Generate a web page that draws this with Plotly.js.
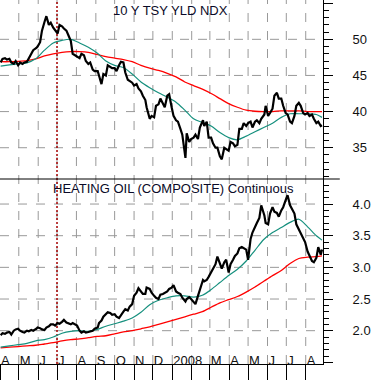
<!DOCTYPE html>
<html><head><meta charset="utf-8">
<script src="https://cdn.plot.ly/plotly-3.0.1.min.js"></script>
<style>html,body{margin:0;padding:0;background:#fff}#chart{width:371px;height:380px}</style>
</head><body><div id="chart"></div>
<script>
// ---- data ----
const priceDates = [
'2007-04-02','2007-04-05','2007-04-09','2007-04-12','2007-04-16','2007-04-19','2007-04-23','2007-04-26','2007-04-30','2007-05-03',
'2007-05-07','2007-05-10','2007-05-14','2007-05-17','2007-05-21','2007-05-24','2007-05-29','2007-05-31','2007-06-04','2007-06-07',
'2007-06-11','2007-06-14','2007-06-18','2007-06-21','2007-06-25','2007-06-28','2007-07-02','2007-07-05','2007-07-09','2007-07-12',
'2007-07-16','2007-07-19','2007-07-23','2007-07-26','2007-07-30','2007-08-02','2007-08-06','2007-08-09','2007-08-13','2007-08-16',
'2007-08-20','2007-08-23','2007-08-27','2007-08-30','2007-09-04','2007-09-06','2007-09-10','2007-09-13','2007-09-17','2007-09-20',
'2007-09-24','2007-09-27','2007-10-01','2007-10-04','2007-10-08','2007-10-11','2007-10-15','2007-10-18','2007-10-22','2007-10-25',
'2007-10-29','2007-11-01','2007-11-05','2007-11-08','2007-11-12','2007-11-15','2007-11-19','2007-11-21','2007-11-26','2007-11-29',
'2007-12-03','2007-12-06','2007-12-10','2007-12-13','2007-12-17','2007-12-20','2007-12-24','2007-12-27','2007-12-31','2008-01-03',
'2008-01-07','2008-01-10','2008-01-14','2008-01-17','2008-01-22','2008-01-24','2008-01-28','2008-01-31','2008-02-04','2008-02-07',
'2008-02-11','2008-02-14','2008-02-19','2008-02-21','2008-02-25','2008-02-28','2008-03-03','2008-03-06','2008-03-10','2008-03-13',
'2008-03-17','2008-03-20','2008-03-24','2008-03-27','2008-03-31','2008-04-03','2008-04-07','2008-04-10','2008-04-14','2008-04-17',
'2008-04-21','2008-04-24','2008-04-28','2008-05-01','2008-05-05','2008-05-08','2008-05-12','2008-05-15','2008-05-19','2008-05-22',
'2008-05-27','2008-05-29','2008-06-02','2008-06-05','2008-06-09','2008-06-12','2008-06-16','2008-06-19','2008-06-23','2008-06-26',
'2008-06-30','2008-07-03','2008-07-07','2008-07-10','2008-07-14','2008-07-17','2008-07-21','2008-07-24','2008-07-28','2008-07-31',
'2008-08-04','2008-08-07','2008-08-11','2008-08-14','2008-08-18','2008-08-21','2008-08-25','2008-08-27'];

const tnxYield = [
46.8,47.3,47.4,47.2,47.3,46.8,46.6,47.0,46.4,46.8,
46.6,46.8,46.9,47.4,48.0,48.5,48.8,49.0,49.6,51.2,
52.4,53.2,52.0,52.3,51.6,51.2,50.8,52.0,51.8,51.5,
51.2,50.6,49.8,48.0,47.8,47.6,47.4,48.0,47.8,47.0,
46.6,46.8,45.8,45.6,45.6,45.0,43.8,45.2,45.0,46.4,
46.2,46.0,46.0,45.6,46.4,46.9,46.8,45.4,44.4,44.2,
44.0,43.6,43.8,43.2,42.8,42.2,41.6,40.6,39.0,39.4,
39.2,40.8,41.0,41.8,41.2,40.6,42.2,42.4,40.6,39.4,
38.8,38.6,37.6,36.8,33.6,37.0,35.8,36.2,36.4,36.8,
36.2,37.8,38.8,38.0,38.6,36.4,36.4,35.6,35.0,35.0,
33.8,33.4,35.0,34.8,34.6,35.8,35.6,35.2,35.4,37.6,
37.6,38.4,38.0,38.4,38.6,37.8,38.6,38.8,38.4,39.0,
39.6,40.8,39.4,39.8,40.4,42.2,42.6,41.8,41.8,40.8,
39.8,39.6,38.6,38.4,39.4,40.8,41.2,40.8,39.8,39.6,
39.8,39.4,39.6,39.0,38.4,38.6,38.0,38.1];

const heatingOil = [
1.93,1.96,1.95,1.97,1.98,1.94,2.00,2.02,2.03,2.00,
1.98,1.97,2.00,1.99,2.01,2.00,2.03,2.05,2.04,2.02,
2.01,2.05,2.07,2.10,2.10,2.08,2.12,2.11,2.14,2.17,
2.13,2.12,2.10,2.12,2.09,2.08,2.00,1.97,1.99,1.97,
1.98,1.99,2.00,2.03,2.05,2.12,2.16,2.22,2.27,2.29,
2.28,2.25,2.26,2.22,2.20,2.25,2.30,2.34,2.32,2.38,
2.42,2.55,2.60,2.67,2.62,2.58,2.58,2.68,2.66,2.60,
2.55,2.52,2.50,2.57,2.58,2.60,2.62,2.66,2.68,2.72,
2.62,2.60,2.58,2.52,2.46,2.50,2.53,2.50,2.45,2.42,
2.55,2.64,2.80,2.78,2.80,2.85,2.92,2.98,3.05,3.17,
3.05,2.98,3.08,3.12,2.92,3.05,3.12,3.18,3.22,3.30,
3.32,3.30,3.28,3.12,3.45,3.55,3.65,3.70,3.78,3.98,
3.82,3.70,3.68,3.85,3.95,3.88,3.86,3.80,3.90,3.95,
4.06,4.14,3.98,3.92,3.85,3.68,3.60,3.52,3.45,3.40,
3.25,3.18,3.10,3.08,3.15,3.32,3.20,3.28];

const maDates = ['2007-04-02','2007-04-16','2007-04-30','2007-05-14','2007-05-28','2007-06-11','2007-06-25','2007-07-09','2007-07-23','2007-08-06',
'2007-08-20','2007-09-03','2007-09-17','2007-10-01','2007-10-15','2007-10-29','2007-11-12','2007-11-26','2007-12-10','2007-12-24',
'2008-01-07','2008-01-21','2008-02-04','2008-02-18','2008-03-03','2008-03-17','2008-03-31','2008-04-14','2008-04-28','2008-05-12',
'2008-05-26','2008-06-09','2008-06-23','2008-07-07','2008-07-21','2008-08-04','2008-08-18','2008-08-27'];

const tnxMA50 = [46.3,46.45,46.6,46.75,47.3,48.5,49.5,49.85,50.0,49.5,
48.9,48.1,47.0,46.4,46.1,45.2,44.1,43.3,42.6,42.0,
41.3,40.2,39.0,38.5,38.0,37.1,36.4,36.1,36.6,37.2,
37.8,38.4,39.2,39.7,39.7,39.7,39.6,39.2];
const tnxMA200 = [46.9,46.9,46.95,47.05,47.3,47.7,48.0,48.2,48.3,48.3,
48.2,47.9,47.6,47.4,47.2,46.9,46.4,46.0,45.7,45.3,
44.8,44.1,43.6,43.1,42.5,41.8,41.1,40.6,40.2,40.05,
40.0,40.0,40.1,40.1,40.1,40.0,40.0,40.0];
const hoMA50 = [1.74,1.76,1.78,1.80,1.84,1.86,1.90,1.96,1.99,2.00,
1.99,2.02,2.07,2.11,2.15,2.20,2.29,2.41,2.48,2.52,
2.55,2.55,2.53,2.56,2.65,2.76,2.87,2.97,3.10,3.27,
3.44,3.55,3.63,3.71,3.76,3.64,3.50,3.43];
const hoMA200 = [1.73,1.74,1.75,1.76,1.77,1.79,1.81,1.84,1.86,1.87,
1.89,1.91,1.92,1.95,1.98,2.00,2.03,2.06,2.10,2.14,
2.18,2.22,2.26,2.30,2.37,2.44,2.49,2.54,2.61,2.69,
2.78,2.87,2.95,3.06,3.14,3.16,3.17,3.18];

// axis values
const monthStarts = ['2007-05-01','2007-06-01','2007-07-01','2007-08-01','2007-09-01','2007-10-01','2007-11-01','2007-12-01',
'2008-01-01','2008-02-01','2008-03-01','2008-04-01','2008-05-01','2008-06-01','2008-07-01','2008-08-01'];
const monthAbbr   = ['Apr','May','Jun','Jul','Aug','Sep','Oct','Nov','Dec','Jan','Feb','Mar'];
const monthLabels = ['A','M','J','J','A','S','O','N','D','2008',' ','M'];
const topTicks = [35,40,45,50];
const bottomTicks = [2.0,2.5,3.0,3.5,4.0];
const firstMonth = '2007-04-01';
const topTickStep = 5, bottomTickStep = 0.5;
const hiddenTopTick = '55', hiddenBottomTick = '1.5';
const eventDate = '2007-07-01';
const topTitle = '10 Y TSY YLD NDX';
const bottomTitle = 'HEATING OIL (COMPOSITE) Continuous';

const monthAlias = {};
monthAbbr.forEach((m, i) => { monthAlias[m] = monthLabels[i]; });

const BLACK = '#000000', TEAL = '#16907e', RED = '#ff0000';
const traces = [
  {x: maDates, y: tnxMA200, xaxis:'x2', yaxis:'y2', type:'scatter', mode:'lines', line:{color:RED, width:1.3, shape:'spline', smoothing:0.8}, hoverinfo:'skip'},
  {x: maDates, y: tnxMA50, xaxis:'x2', yaxis:'y2', type:'scatter', mode:'lines', line:{color:TEAL, width:1.2, shape:'spline', smoothing:0.8}, hoverinfo:'skip'},
  {x: priceDates, y: tnxYield, xaxis:'x2', yaxis:'y2', type:'scatter', mode:'lines', line:{color:BLACK, width:2.2}},
  {x: maDates, y: hoMA200, xaxis:'x', yaxis:'y', type:'scatter', mode:'lines', line:{color:RED, width:1.3, shape:'spline', smoothing:0.8}, hoverinfo:'skip'},
  {x: maDates, y: hoMA50, xaxis:'x', yaxis:'y', type:'scatter', mode:'lines', line:{color:TEAL, width:1.2, shape:'spline', smoothing:0.8}, hoverinfo:'skip'},
  {x: priceDates, y: heatingOil, xaxis:'x', yaxis:'y', type:'scatter', mode:'lines', line:{color:BLACK, width:2.2}}
];

const FONT = 'Liberation Sans, Arial, sans-serif';
const GRID = '#999999', GDASH = 'dash';
const split = 0.5082;
const xr = ['2007-04-01 00:00','2008-08-28 14:00'];

const yCommon = {
  side:'right', showline:true, linecolor:BLACK, linewidth:1, mirror:false,
  ticks:'outside', ticklen:9, tickcolor:BLACK, tickwidth:1,
  tickfont:{family:FONT, size:13, color:'#111'}, ticklabelstandoff:17,
  showgrid:false, zeroline:false, fixedrange:true
};
const xCommon = {
  domain:[0,1], type:'date', range:xr, tick0:firstMonth, dtick:'M1',
  showgrid:false, zeroline:false, fixedrange:true
};

// dashed grid drawn at the axis values
const gridLine = {color:GRID, width:1, dash:GDASH};
const gridShapes = [].concat(
  monthStarts.map(d => ({type:'line', xref:'x', yref:'paper', x0:d, x1:d, y0:0, y1:1, layer:'below', line:gridLine})),
  topTicks.map(v => ({type:'line', xref:'paper', yref:'y2', x0:0, x1:1, y0:v, y1:v, layer:'below', line:gridLine})),
  bottomTicks.map(v => ({type:'line', xref:'paper', yref:'y', x0:0, x1:1, y0:v, y1:v, layer:'below', line:gridLine}))
);

const layout = {
  width:371, height:380, showlegend:false,
  paper_bgcolor:'#fff', plot_bgcolor:'rgba(0,0,0,0)',
  margin:{l:0, r:47.7, t:0, b:16, autoexpand:false},
  font:{family:FONT, size:13, color:'#111'},
  xaxis:Object.assign({}, xCommon, {anchor:'y',
    tickformat:'%b', labelalias:monthAlias, tickangle:0,
    ticklabelposition:'outside right', ticks:'outside', ticklen:16, tickcolor:BLACK, tickwidth:1,
    ticklabelstandoff:-16, tickfont:{family:FONT, size:13, color:'#111'},
    showline:true, linecolor:BLACK}),
  xaxis2:Object.assign({}, xCommon, {anchor:'y2', matches:'x', showticklabels:false, ticks:'', showline:false}),
  yaxis:Object.assign({}, yCommon, {anchor:'x', domain:[0, split], range:[1.474, 4.395],
    tick0:0, dtick:bottomTickStep, tickformat:'.1f', labelalias:{[hiddenBottomTick]:' '},
    minor:{dtick:0.1, tick0:0, ticks:'outside', ticklen:5, tickcolor:BLACK, showgrid:false}}),
  yaxis2:Object.assign({}, yCommon, {anchor:'x2', domain:[split, 1], range:[30.67, 55.44],
    tick0:0, dtick:topTickStep, labelalias:{[hiddenTopTick]:' '},
    minor:{dtick:1, tick0:0, ticks:'outside', ticklen:5, tickcolor:BLACK, showgrid:false}}),
  shapes: gridShapes.concat([
    {type:'line', xref:'x', yref:'paper', x0:eventDate, x1:eventDate, y0:0, y1:1, layer:'below',
     line:{color:'#a50000', width:1.5, dash:'2px,2px'}},
    {type:'line', xref:'paper', yref:'paper', x0:0, x1:1.052, y0:split, y1:split, layer:'above',
     line:{color:BLACK, width:1}}
  ]),
  annotations:[
    {text:topTitle, xref:'paper', yref:'paper', x:0.343, y:0.970, xanchor:'left', yanchor:'middle', showarrow:false,
     font:{family:FONT, size:13, color:'#0a0a28'}},
    {text:bottomTitle, xref:'paper', yref:'paper', x:0.158, y:0.4835, xanchor:'left', yanchor:'middle', showarrow:false,
     font:{family:FONT, size:13, color:'#0a0a28'}}
  ]
};

Plotly.newPlot('chart', traces, layout, {displayModeBar:false, staticPlot:true});
</script>
</body></html>
